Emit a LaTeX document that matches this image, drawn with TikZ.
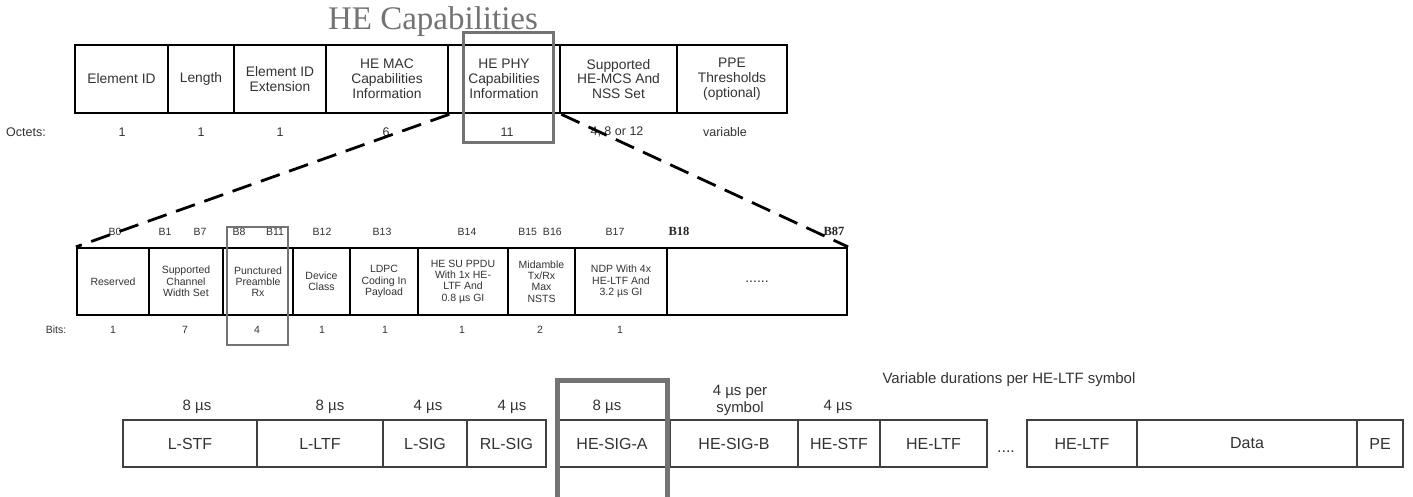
\documentclass[tikz,border=0pt]{standalone}
\usepackage{fontspec}
\setmainfont{Liberation Sans}
\newfontfamily\seriffam{Liberation Serif}
\begin{document}
\begin{tikzpicture}[x=1pt,y=-1pt,
  txt/.style={text=black!80},
  topcell/.style={draw=black,line width=2.6pt,minimum height=68pt,inner sep=0pt,align=center,txt,font=\fontsize{13.8}{14.8}\selectfont},
  midcell/.style={draw=black,line width=2.2pt,minimum height=67pt,inner sep=0pt,align=center,txt,font=\fontsize{10.5}{11.3}\selectfont},
  botcell/.style={draw=black!75,line width=1.4pt,minimum height=47pt,inner sep=0pt,align=center,txt,font=\fontsize{16}{18}\selectfont},
  toplab/.style={txt,inner sep=0pt,font=\fontsize{12.5}{13}\selectfont},
  midlab/.style={txt,inner sep=0pt,font=\fontsize{10.5}{11}\selectfont},
  botlab/.style={txt,inner sep=0pt,align=center,font=\fontsize{15}{17}\selectfont},
  hilite/.style={draw=black!55,line width=3pt},
  zoomline/.style={draw=black,line width=2.8pt,dash pattern=on 20pt off 10pt}
]
\useasboundingbox[fill=white] (0,0) rectangle (1413,497);

% title
\node[text=black!55,inner sep=0pt,font=\seriffam\fontsize{33}{36}\selectfont] (title) at (433,22) {HE Capabilities};

% top row
\node[topcell,minimum width=93pt]  (e1) at (121.5,79) {Element ID};
\node[topcell,minimum width=66pt]  (e2) at (201,79) {Length};
\node[topcell,minimum width=92pt]  (e3) at (280,79) {Element ID\\Extension};
\node[topcell,minimum width=122pt] (e4) at (387,79) {HE MAC\\Capabilities\\Information};
\node[topcell,minimum width=112pt] (e5) at (504,79) {HE PHY\\Capabilities\\Information};
\node[topcell,minimum width=117pt] (e6) at (618.5,79) {Supported\\HE-MCS And\\NSS Set};
\node[topcell,minimum width=110pt] (e7) at (732,79) {PPE\\Thresholds\\(optional)};

\node[toplab] (oct) at (26,132) {Octets:};
\node[toplab] (o1) at (122,132) {1};
\node[toplab] (o2) at (201,132) {1};
\node[toplab] (o3) at (280,132) {1};
\node[toplab] (o4) at (386,132) {6};
\node[toplab] (o5) at (507,132) {11};
\node[toplab] (o6) at (617,132) {4, 8 or 12};
\node[toplab] (o7) at (725,132) {variable};

\draw[hilite] (463,33) rectangle (553,143);

% middle row
\node[midcell,minimum width=72pt]  (m1) at (113,281.5) {Reserved};
\node[midcell,minimum width=74pt]  (m2) at (186,281.5) {Supported\\Channel\\Width Set};
\node[midcell,minimum width=70pt]  (m3) at (258,281.5) {Punctured\\Preamble\\Rx};
\node[midcell,minimum width=57pt]  (m4) at (321.5,281.5) {Device\\Class};
\node[midcell,minimum width=68pt]  (m5) at (384,281.5) {LDPC\\Coding In\\Payload};
\node[midcell,minimum width=90pt]  (m6) at (463,281.5) {HE SU PPDU\\With 1x HE-\\LTF And\\0.8 µs GI};
\node[midcell,minimum width=67pt]  (m7) at (541.5,281.5) {Midamble\\Tx/Rx\\Max\\NSTS};
\node[midcell,minimum width=92pt]  (m8) at (621,281.5) {NDP With 4x\\HE-LTF And\\3.2 µs GI};
\node[midcell,minimum width=180pt,font=\fontsize{14}{15}\selectfont] (m9) at (757,281.5) {......};

\node[midlab] (b0) at (115,232) {B0};
\node[midlab] (b1) at (165,232) {B1};
\node[midlab] (b7) at (200,232) {B7};
\node[midlab] (b8) at (239,232) {B8};
\node[midlab] (b11) at (275,232) {B11};
\node[midlab] (b12) at (322,232) {B12};
\node[midlab] (b13) at (382,232) {B13};
\node[midlab] (b14) at (467,232) {B14};
\node[midlab] (b15) at (540,232) {B15\hspace{6pt}B16};
\node[midlab] (b17) at (615,232) {B17};
\node[inner sep=0pt,text=black!85,font=\seriffam\bfseries\fontsize{12.5}{13}\selectfont] (b18) at (679,231) {B18};
\node[inner sep=0pt,text=black!85,font=\seriffam\bfseries\fontsize{12.5}{13}\selectfont] (b87) at (834,231) {B87};

\node[midlab] (bits) at (56,330) {Bits:};
\node[midlab] (n1) at (113,330) {1};
\node[midlab] (n2) at (185,330) {7};
\node[midlab] (n3) at (257,330) {4};
\node[midlab] (n4) at (322,330) {1};
\node[midlab] (n5) at (385,330) {1};
\node[midlab] (n6) at (462,330) {1};
\node[midlab] (n7) at (540,330) {2};
\node[midlab] (n8) at (620,330) {1};

\draw[hilite,line width=2.6pt] (227,227) rectangle (288,345);

% zoom lines
\draw[zoomline] (e4.south east) -- (m1.north west);
\draw[zoomline] (e5.south east) -- (m9.north east);

% bottom row
\node[botcell,minimum width=134pt] (p1) at (190,443.5) {L-STF};
\node[botcell,minimum width=126pt] (p2) at (320,443.5) {L-LTF};
\node[botcell,minimum width=84pt]  (p3) at (425,443.5) {L-SIG};
\node[botcell,minimum width=79pt]  (p4) at (506.5,443.5) {RL-SIG};
\node[botcell,minimum width=110pt] (p5) at (612,443.5) {HE-SIG-A};
\node[botcell,minimum width=128pt] (p6) at (734,443.5) {HE-SIG-B};
\node[botcell,minimum width=82pt]  (p7) at (839,443.5) {HE-STF};
\node[botcell,minimum width=107pt] (p8) at (933.5,443.5) {HE-LTF};
\node[botcell,minimum width=110pt] (p9) at (1082,443.5) {HE-LTF};
\node[botcell,minimum width=220pt] (p10) at (1247,443.5) {Data};
\node[botcell,minimum width=46pt]  (p11) at (1380,443.5) {PE};
\node[txt,inner sep=0pt,font=\fontsize{16}{18}\selectfont] (dots) at (1006,452) {....};

\node[botlab] (d1) at (197,407) {8 µs};
\node[botlab] (d2) at (330,407) {8 µs};
\node[botlab] (d3) at (428,407) {4 µs};
\node[botlab] (d4) at (512,407) {4 µs};
\node[botlab] (d5) at (607,407) {8 µs};
\node[botlab] (d6) at (740,400) {4 µs per\\symbol};
\node[botlab] (d7) at (838,407) {4 µs};
\node[botlab] (d8) at (1009,380) {Variable durations per HE-LTF symbol};

\draw[hilite,line width=5pt] (557,505) -- (557,380) -- (667,380) -- (667,505);
\end{tikzpicture}
\end{document}
